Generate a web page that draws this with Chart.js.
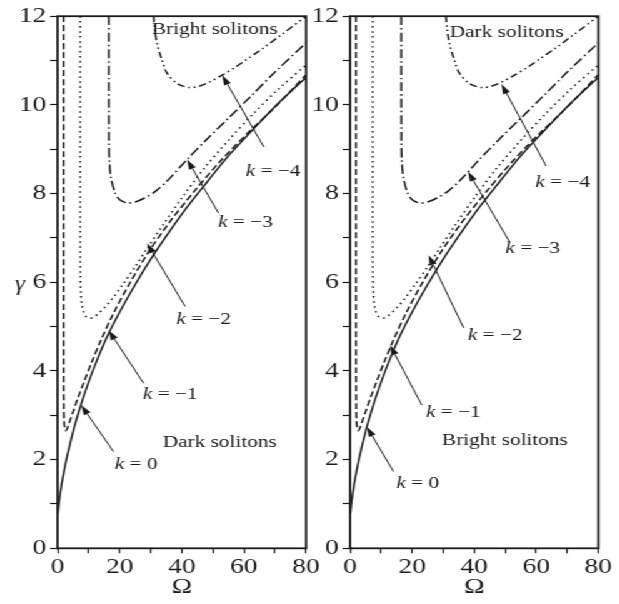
<!DOCTYPE html>
<html>
<head>
<meta charset="utf-8">
<script src="https://cdn.jsdelivr.net/npm/chart.js@4.4.0/dist/chart.umd.min.js"></script>
<style>
  html, body { margin: 0; padding: 0; background: #fff; }
  /* the figure is a bit wide for its height, so the whole page is stretched sideways */
  #page { position: absolute; left: 0; top: 0; width: 496px; height: 604px; transform: scaleX(1.25); transform-origin: 0 0; }
  .panel { position: absolute; top: 0; height: 604px; }
</style>
</head>
<body>
<div id="page">
  <div class="panel" style="left:0;width:262px"><canvas id="leftChart"></canvas></div>
  <div class="panel" style="left:250px;width:246px"><canvas id="rightChart"></canvas></div>
</div>
<script>
// Curves: Omega (x) and gamma (y), same in both panels
const omegaK0 = [0.1, 0.5, 1.0, 1.5, 2.2, 3.0, 4.0, 5.4, 7.0, 9.0, 12, 16, 20, 25, 30, 36, 42, 48, 55, 63, 71, 80];
const gammaK0 = [0.78, 1.05, 1.3, 1.52, 1.78, 2.05, 2.35, 2.74, 3.12, 3.55, 4.12, 4.78, 5.33, 5.95, 6.52, 7.14, 7.72, 8.25, 8.85, 9.45, 10.03, 10.62];

const omegaK1 = [1.9, 1.9, 1.9, 1.92, 1.98, 2.1, 2.35, 2.7, 3.2, 4.0, 5.0, 6.5, 8.5, 11, 14, 18, 23, 29, 36, 44, 52, 61, 70, 80];
const gammaK1 = [12, 9, 6, 4.0, 3.2, 2.85, 2.7, 2.65, 2.72, 2.88, 3.08, 3.38, 3.75, 4.2, 4.7, 5.3, 5.95, 6.65, 7.35, 8.05, 8.7, 9.35, 9.95, 10.68];

const omegaK2 = [7.3, 7.3, 7.3, 7.35, 7.5, 7.9, 8.5, 9.4, 10.5, 11.8, 13.2, 15, 17.5, 21, 25, 29, 34, 40, 47, 55, 63, 71, 80];
const gammaK2 = [12, 9.5, 7.2, 6.2, 5.75, 5.45, 5.3, 5.21, 5.19, 5.22, 5.3, 5.42, 5.62, 5.95, 6.35, 6.78, 7.3, 7.9, 8.55, 9.2, 9.8, 10.35, 10.9];

const omegaK3 = [16.5, 16.5, 16.55, 16.7, 17.2, 18.5, 20, 22.3, 25, 28, 31.5, 35.5, 41.7, 48, 55, 62, 70, 80];
const gammaK3 = [12, 10.5, 9.2, 8.7, 8.35, 8.02, 7.86, 7.79, 7.81, 7.9, 8.05, 8.3, 8.77, 9.22, 9.7, 10.18, 10.74, 11.4];

const omegaK4 = [30.9, 31.3, 32, 33.6, 35.2, 38.5, 42.5, 46, 49, 53, 57, 61, 66, 72, 80];
const gammaK4 = [12, 11.7, 11.39, 11.01, 10.72, 10.48, 10.39, 10.43, 10.52, 10.67, 10.84, 11.03, 11.27, 11.58, 12];

const xLabels = [0, 20, 40, 60, 80];
const yLabels = [0, 2, 4, 6, 8, 10, 12];

const INK = '#1a1a1a';
const SERIF = '"Liberation Serif", "Times New Roman", serif';

const curves = [
  { omega: omegaK0, gamma: gammaK0, dash: [] },
  { omega: omegaK1, gamma: gammaK1, dash: [6, 3] },
  { omega: omegaK2, gamma: gammaK2, dash: [1.5, 3.5] },
  { omega: omegaK3, gamma: gammaK3, dash: [9, 3, 1.5, 3] },
  { omega: omegaK4, gamma: gammaK4, dash: [6, 3, 1.5, 3, 1.5, 3] }
];

// labels and arrows, in data units (Omega, gamma)
const leftLabels = [
  { text: 'Bright solitons', x: 50.6, y: 11.69 },
  { text: 'k = −4', x: 69.4, y: 8.49 },
  { text: 'k = −3', x: 60.5, y: 7.35 },
  { text: 'k = −2', x: 47.0, y: 5.17 },
  { text: 'k = −1', x: 36.3, y: 3.46 },
  { text: 'Dark solitons', x: 52.2, y: 2.39 },
  { text: 'k = 0', x: 25.3, y: 1.9 }
];
const leftArrows = [
  [66.4, 9.05, 53, 10.67],
  [51.8, 7.56, 41.7, 8.77],
  [41.1, 5.45, 28.8, 6.88],
  [27.7, 3.72, 16.4, 4.92],
  [18.0, 2.18, 7.6, 3.23]
];
const rightLabels = [
  { text: 'Dark solitons', x: 50.5, y: 11.64 },
  { text: 'k = −4', x: 68.5, y: 8.24 },
  { text: 'k = −3', x: 58.9, y: 6.75 },
  { text: 'k = −2', x: 46.8, y: 4.79 },
  { text: 'k = −1', x: 33.3, y: 3.07 },
  { text: 'Bright solitons', x: 49.9, y: 2.44 },
  { text: 'k = 0', x: 21.8, y: 1.47 }
];
const rightArrows = [
  [63.2, 8.62, 48.8, 10.47],
  [51.5, 6.9, 38.0, 8.5],
  [36.6, 4.97, 25.3, 6.61],
  [23.1, 3.23, 12.9, 4.58],
  [14.0, 1.73, 5.4, 2.74]
];

// box round the plot area
const framePlugin = {
  id: 'frame',
  afterDraw(chart) {
    const { ctx, chartArea: a } = chart;
    ctx.save();
    ctx.strokeStyle = INK;
    ctx.lineWidth = 1.8;
    ctx.strokeRect(a.left, a.top, a.right - a.left, a.bottom - a.top);
    ctx.restore();
  }
};

// text labels, arrows and the upright gamma
const notesPlugin = {
  id: 'notes',
  afterDraw(chart, args, opts) {
    const { ctx, chartArea: a, scales: { x, y } } = chart;
    ctx.save();
    ctx.strokeStyle = INK;
    ctx.fillStyle = INK;
    ctx.lineWidth = 1;
    opts.arrows.forEach(([x0, y0, x1, y1]) => {
      const px0 = x.getPixelForValue(x0), py0 = y.getPixelForValue(y0);
      const px1 = x.getPixelForValue(x1), py1 = y.getPixelForValue(y1);
      const ang = Math.atan2(py1 - py0, px1 - px0);
      const len = 10, half = 3;
      const bx = px1 - len * Math.cos(ang), by = py1 - len * Math.sin(ang);
      ctx.beginPath();
      ctx.moveTo(px0, py0);
      ctx.lineTo(bx, by);
      ctx.stroke();
      ctx.beginPath();
      ctx.moveTo(px1, py1);
      ctx.lineTo(bx + half * Math.sin(ang), by - half * Math.cos(ang));
      ctx.lineTo(bx - half * Math.sin(ang), by + half * Math.cos(ang));
      ctx.closePath();
      ctx.fill();
    });

    ctx.textBaseline = 'middle';
    ctx.textAlign = 'left';
    const plain = '17px ' + SERIF, italic = 'italic 17px ' + SERIF;
    opts.labels.forEach(l => {
      const px = x.getPixelForValue(l.x), py = y.getPixelForValue(l.y);
      if (l.text.startsWith('k ')) {
        const rest = l.text.slice(1);
        ctx.font = italic;
        const wk = ctx.measureText('k').width;
        ctx.font = plain;
        const wr = ctx.measureText(rest).width;
        const x0 = px - (wk + wr) / 2;
        ctx.font = italic;
        ctx.fillText('k', x0, py);
        ctx.font = plain;
        ctx.fillText(rest, x0 + wk, py);
      } else {
        ctx.font = plain;
        ctx.fillText(l.text, px - ctx.measureText(l.text).width / 2, py);
      }
    });

    if (opts.yTitle) {
      ctx.font = 'italic 20px ' + SERIF;
      ctx.textAlign = 'center';
      ctx.fillText('γ', 16, (a.top + a.bottom) / 2 + 2);
    }
    ctx.restore();
  }
};

function makeChart(id, yWidth, padRight, labels, arrows, yTitle) {
  return new Chart(document.getElementById(id), {
    type: 'scatter',
    data: {
      datasets: curves.map(c => ({
        data: c.omega.map((o, i) => ({ x: o, y: c.gamma[i] })),
        showLine: true,
        borderColor: INK,
        borderWidth: 1.5,
        borderDash: c.dash,
        pointRadius: 0,
        tension: 0.3,
        fill: false
      }))
    },
    options: {
      responsive: true,
      maintainAspectRatio: false,
      animation: false,
      layout: { padding: { top: 16, right: padRight, bottom: 0, left: 0 } },
      plugins: {
        legend: { display: false },
        tooltip: { enabled: false },
        notes: { labels: labels, arrows: arrows, yTitle: yTitle }
      },
      scales: {
        x: {
          type: 'linear', min: 0, max: 80,
          afterFit: (axis) => { axis.height = 55.7; },
          ticks: {
            stepSize: 10, autoSkip: false, maxRotation: 0, padding: 1, color: INK,
            font: { family: SERIF, size: 22 },
            callback: (v) => xLabels.includes(v) ? v : ''
          },
          grid: { drawOnChartArea: false, tickLength: 5, tickColor: INK, tickWidth: 1.2 },
          border: { display: false },
          title: { display: true, text: 'Ω', color: INK, font: { family: SERIF, size: 22 }, padding: { top: 0, bottom: 4 } }
        },
        y: {
          type: 'linear', min: 0, max: 12,
          afterFit: (axis) => { axis.width = yWidth; },
          ticks: {
            stepSize: 1, autoSkip: false, padding: 3, color: INK,
            font: { family: SERIF, size: 22 },
            callback: (v) => yLabels.includes(v) ? v : ''
          },
          grid: { drawOnChartArea: false, tickLength: 6, tickColor: INK, tickWidth: 1.2 },
          border: { display: false }
        }
      }
    },
    plugins: [framePlugin, notesPlugin]
  });
}

makeChart('leftChart', 46, 17.2, leftLabels, leftArrows, true);
makeChart('rightChart', 30, 17.4, rightLabels, rightArrows, false);
</script>
</body>
</html>
